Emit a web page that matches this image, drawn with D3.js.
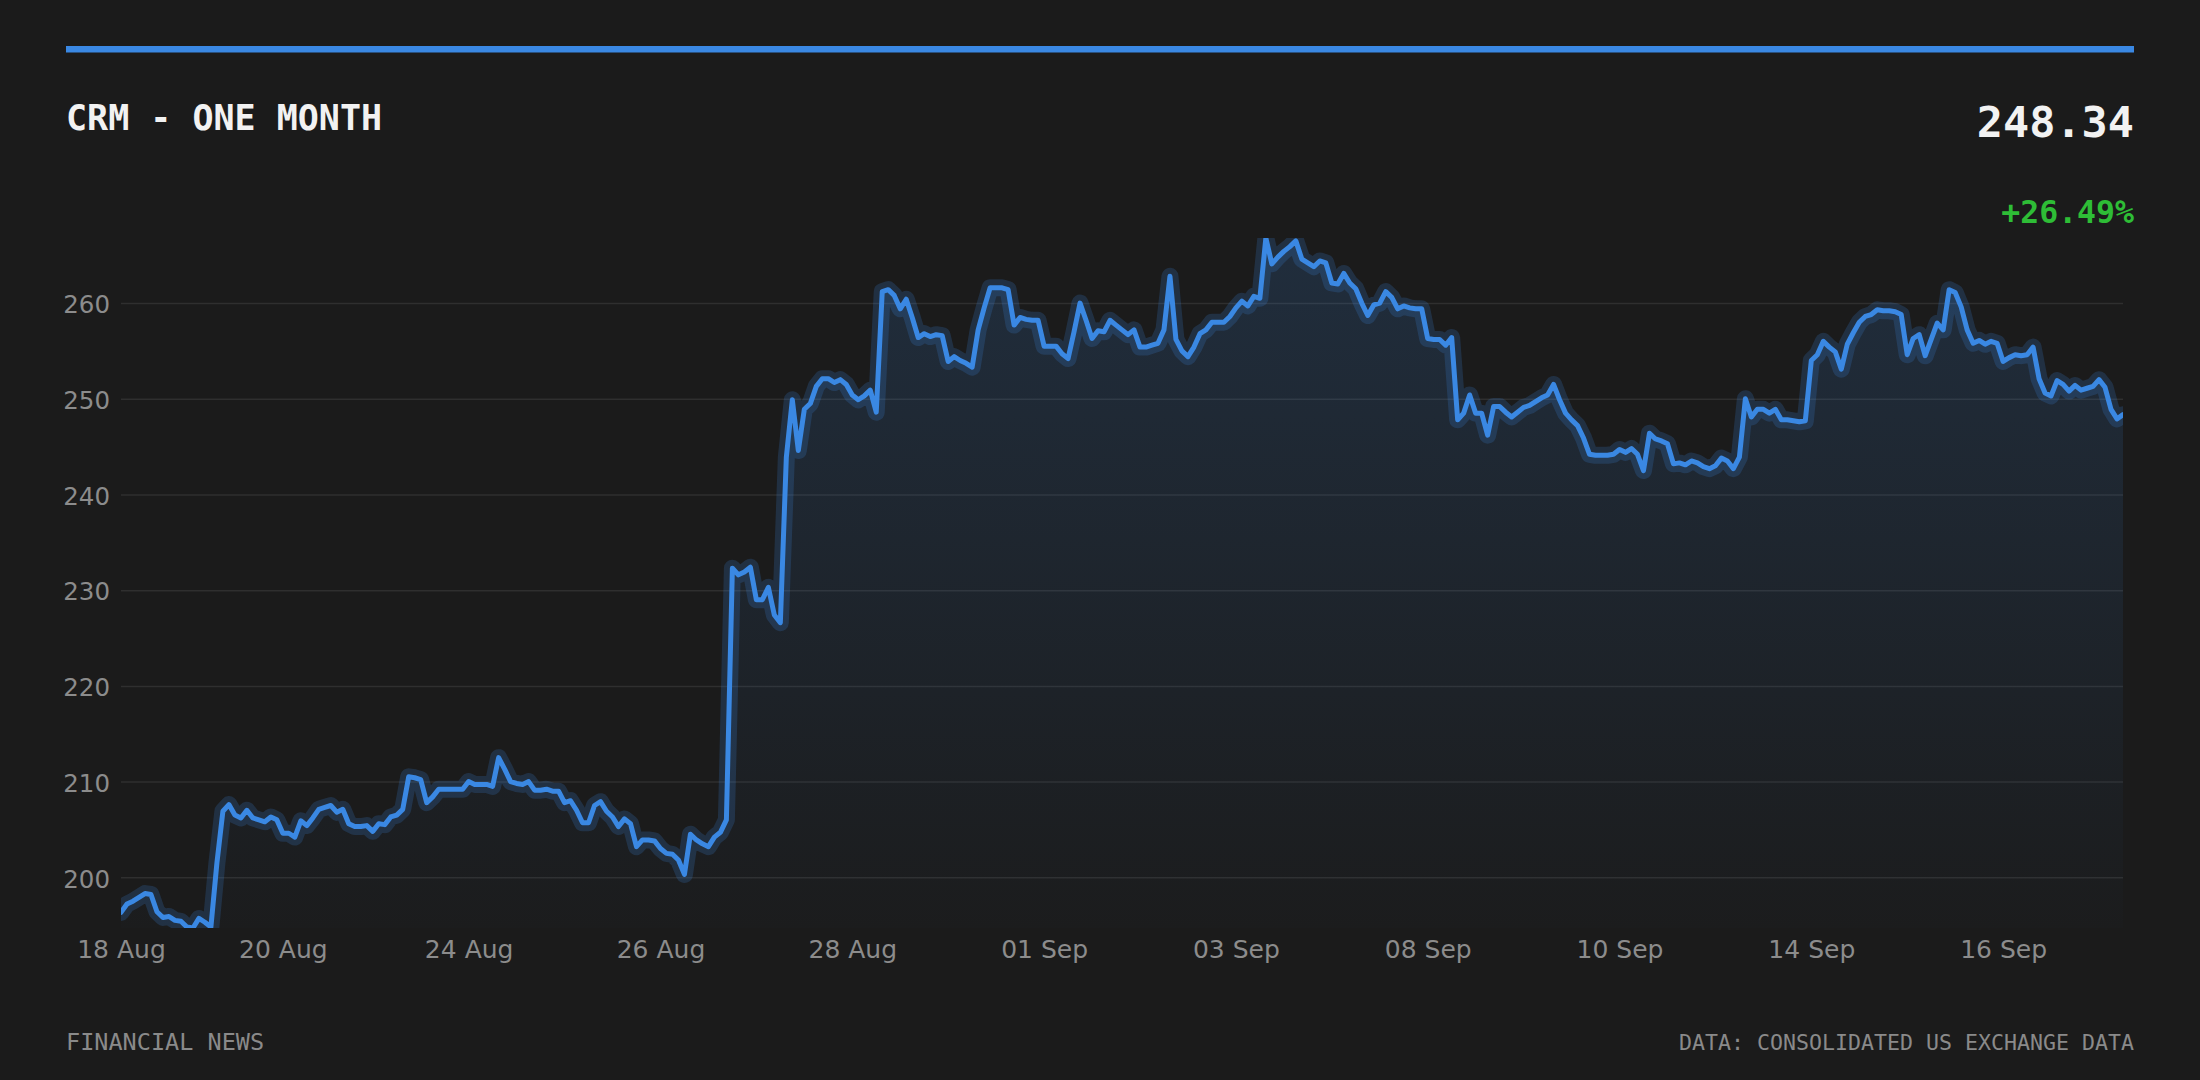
<!DOCTYPE html>
<html>
<head>
<meta charset="utf-8">
<script src="https://cdn.jsdelivr.net/npm/d3@7"></script>
<style>
  html, body { margin: 0; padding: 0; background: #1b1b1b; }
  svg { display: block; }
</style>
</head>
<body>
<div id="chart"></div>
<script>
// CRM close prices, one point per bar
const prices = [
  196.33, 197.2, 197.5, 197.9, 198.3, 198.2, 196.4, 195.8, 195.9, 195.5,
  195.4, 194.8, 194.7, 195.7, 195.3, 194.8, 201.5, 206.9, 207.6, 206.5,
  206.2, 207.0, 206.2, 206.0, 205.8, 206.3, 206.0, 204.6, 204.6, 204.2,
  205.9, 205.4, 206.2, 207.1, 207.3, 207.5, 206.8, 207.1, 205.6, 205.3,
  205.3, 205.4, 204.8, 205.6, 205.5, 206.3, 206.5, 207.1, 210.5, 210.4,
  210.2, 207.8, 208.4, 209.2, 209.2, 209.2, 209.2, 209.2, 210.0, 209.7,
  209.7, 209.7, 209.5, 212.5, 211.3, 210.0, 209.8, 209.7, 210.0, 209.1,
  209.1, 209.2, 209.0, 209.0, 207.8, 208.0, 207.0, 205.7, 205.7, 207.5,
  207.9, 206.9, 206.3, 205.3, 206.1, 205.6, 203.2, 203.9, 203.9, 203.8,
  203.0, 202.5, 202.4, 201.8, 200.3, 204.5, 203.9, 203.5, 203.2, 204.2,
  204.7, 206.0, 232.3, 231.6, 231.9, 232.4, 229.0, 229.0, 230.3, 227.4,
  226.6, 243.9, 249.9, 244.6, 248.9, 249.5, 251.3, 252.1, 252.1, 251.7,
  252.0, 251.5, 250.4, 249.9, 250.3, 250.9, 248.6, 261.2, 261.4, 260.8,
  259.4, 260.4, 258.5, 256.4, 256.8, 256.5, 256.7, 256.6, 253.9, 254.4,
  254.0, 253.7, 253.3, 257.2, 259.5, 261.6, 261.6, 261.6, 261.4, 257.7,
  258.5, 258.3, 258.2, 258.2, 255.5, 255.5, 255.5, 254.7, 254.2, 257.0,
  260.0, 258.2, 256.3, 257.1, 257.0, 258.2, 257.7, 257.2, 256.7, 257.2,
  255.4, 255.4, 255.6, 255.8, 257.2, 262.8, 256.2, 255.0, 254.4, 255.4,
  256.8, 257.2, 258.0, 258.0, 258.0, 258.6, 259.5, 260.2, 259.7, 260.7,
  260.5, 266.8, 264.1, 264.8, 265.4, 265.9, 266.5, 264.6, 264.2, 263.8,
  264.4, 264.2, 262.1, 262.0, 263.1, 262.1, 261.5, 260.0, 258.7, 259.8,
  260.0, 261.2, 260.6, 259.4, 259.7, 259.5, 259.4, 259.4, 256.3, 256.2,
  256.2, 255.6, 256.4, 247.8, 248.5, 250.4, 248.5, 248.5, 246.2, 249.2,
  249.2, 248.6, 248.1, 248.6, 249.1, 249.3, 249.7, 250.1, 250.4, 251.5,
  249.9, 248.5, 247.8, 247.2, 245.9, 244.2, 244.1, 244.1, 244.1, 244.2,
  244.7, 244.4, 244.8, 244.2, 242.5, 246.4, 245.8, 245.6, 245.3, 243.2,
  243.3, 243.1, 243.5, 243.3, 242.9, 242.7, 243.0, 243.8, 243.5, 242.7,
  243.9, 250.0, 248.1, 248.9, 248.9, 248.5, 248.9, 247.8, 247.8, 247.7,
  247.6, 247.7, 254.0, 254.6, 256.0, 255.4, 254.9, 253.1, 255.7, 256.9,
  258.0, 258.6, 258.8, 259.3, 259.2, 259.2, 259.1, 258.8, 254.6, 256.3,
  256.7, 254.5, 256.2, 257.9, 257.2, 261.4, 261.1, 259.6, 257.2, 255.8,
  256.1, 255.7, 256.0, 255.8, 253.9, 254.3, 254.6, 254.5, 254.6, 255.4,
  252.1, 250.6, 250.3, 251.9, 251.5, 250.8, 251.4, 250.9, 251.1, 251.3,
  252.0, 251.2, 248.9, 247.9, 248.34
];

// x-axis labels and the bar index each one sits on
const tickIndex = [0, 27, 58, 90, 122, 154, 186, 218, 250, 282, 314];
const tickLabels = ['18 Aug', '20 Aug', '24 Aug', '26 Aug', '28 Aug', '01 Sep',
  '03 Sep', '08 Sep', '10 Sep', '14 Sep', '16 Sep'];
const yTicks = [200, 210, 220, 230, 240, 250, 260];

const title = 'CRM - ONE MONTH';
const lastPrice = '248.34';
const change = '+26.49%';
const footLeft = 'FINANCIAL NEWS';
const footRight = 'DATA: CONSOLIDATED US EXCHANGE DATA';

const W = 2200, H = 1080;
const LINE = '#3a88e3';
const MONO = '"DejaVu Sans Mono", "Liberation Mono", monospace';
const SANS = '"DejaVu Sans", "Noto Sans", sans-serif';
const plot = { left: 121, right: 2123, top: 238, bottom: 928 };

const svg = d3.select('#chart')
  .append('svg')
  .attr('width', W)
  .attr('height', H)
  .attr('viewBox', `0 0 ${W} ${H}`);

svg.append('rect').attr('width', W).attr('height', H).attr('fill', '#1b1b1b');

// accent bar
svg.append('rect')
  .attr('x', 66).attr('y', 46)
  .attr('width', 2068).attr('height', 6.5)
  .attr('fill', LINE);

// header
svg.append('text')
  .attr('x', 66).attr('y', 130)
  .attr('font-family', MONO).attr('font-weight', 'bold').attr('font-size', 35)
  .attr('fill', '#f2f2f2')
  .text(title);

svg.append('text')
  .attr('x', 2134).attr('y', 137)
  .attr('text-anchor', 'end')
  .attr('font-family', MONO).attr('font-weight', 'bold').attr('font-size', 43.5)
  .attr('fill', '#f2f2f2')
  .text(lastPrice);

svg.append('text')
  .attr('x', 2134).attr('y', 223)
  .attr('text-anchor', 'end')
  .attr('font-family', MONO).attr('font-weight', 'bold').attr('font-size', 31.5)
  .attr('fill', '#2ebd36')
  .text(change);

// scales
const x = d3.scaleLinear()
  .domain([0, prices.length - 1])
  .range([plot.left, plot.right]);

const y = d3.scaleLinear()
  .domain(d3.extent(prices))
  .range([plot.bottom, plot.top]);

// gradient for the area
const defs = svg.append('defs');
const grad = defs.append('linearGradient')
  .attr('id', 'areaFill')
  .attr('gradientUnits', 'userSpaceOnUse')
  .attr('x1', 0).attr('x2', 0)
  .attr('y1', plot.top).attr('y2', plot.bottom);
grad.append('stop').attr('offset', '0%').attr('stop-color', LINE).attr('stop-opacity', 0.17);
grad.append('stop').attr('offset', '100%').attr('stop-color', LINE).attr('stop-opacity', 0.01);

defs.append('clipPath')
  .attr('id', 'plotClip')
  .append('rect')
  .attr('x', plot.left).attr('y', plot.top)
  .attr('width', plot.right - plot.left)
  .attr('height', plot.bottom - plot.top);

// y grid + labels
const yAxis = svg.append('g')
  .attr('transform', `translate(${plot.left},0)`)
  .call(d3.axisLeft(y)
    .tickValues(yTicks)
    .tickSize(-(plot.right - plot.left))
    .tickPadding(11)
    .tickFormat(d3.format('d')));
yAxis.select('.domain').remove();
yAxis.selectAll('line').attr('stroke', '#2f2f2f').attr('stroke-width', 1.5);
yAxis.selectAll('text')
  .attr('fill', '#8c8c8c')
  .attr('font-family', SANS)
  .attr('font-size', 24.5)
  .attr('dy', '0.4em');

// x labels
const xAxis = svg.append('g')
  .attr('transform', `translate(0,${plot.bottom})`)
  .call(d3.axisBottom(x)
    .tickValues(tickIndex)
    .tickSize(0)
    .tickPadding(12)
    .tickFormat((d, i) => tickLabels[i]));
xAxis.select('.domain').remove();
xAxis.selectAll('text')
  .attr('fill', '#8c8c8c')
  .attr('font-family', SANS)
  .attr('font-size', 25);

// price area + line
const chartG = svg.append('g').attr('clip-path', 'url(#plotClip)');

const area = d3.area()
  .x((d, i) => x(i))
  .y0(plot.bottom)
  .y1(d => y(d));

const line = d3.line()
  .x((d, i) => x(i))
  .y(d => y(d));

chartG.append('path')
  .datum(prices)
  .attr('d', area)
  .attr('fill', 'url(#areaFill)');

// soft halo under the line
chartG.append('path')
  .datum(prices)
  .attr('d', line)
  .attr('fill', 'none')
  .attr('stroke', LINE)
  .attr('stroke-opacity', 0.2)
  .attr('stroke-width', 17)
  .attr('stroke-linejoin', 'round')
  .attr('stroke-linecap', 'round');

chartG.append('path')
  .datum(prices)
  .attr('d', line)
  .attr('fill', 'none')
  .attr('stroke', LINE)
  .attr('stroke-width', 5)
  .attr('stroke-linejoin', 'round')
  .attr('stroke-linecap', 'round');

// footer
svg.append('text')
  .attr('x', 66).attr('y', 1050)
  .attr('font-family', MONO).attr('font-size', 23.5)
  .attr('fill', '#8a8a8a')
  .text(footLeft);

svg.append('text')
  .attr('x', 2134).attr('y', 1050)
  .attr('text-anchor', 'end')
  .attr('font-family', MONO).attr('font-size', 21.6)
  .attr('fill', '#8a8a8a')
  .text(footRight);
</script>
</body>
</html>
